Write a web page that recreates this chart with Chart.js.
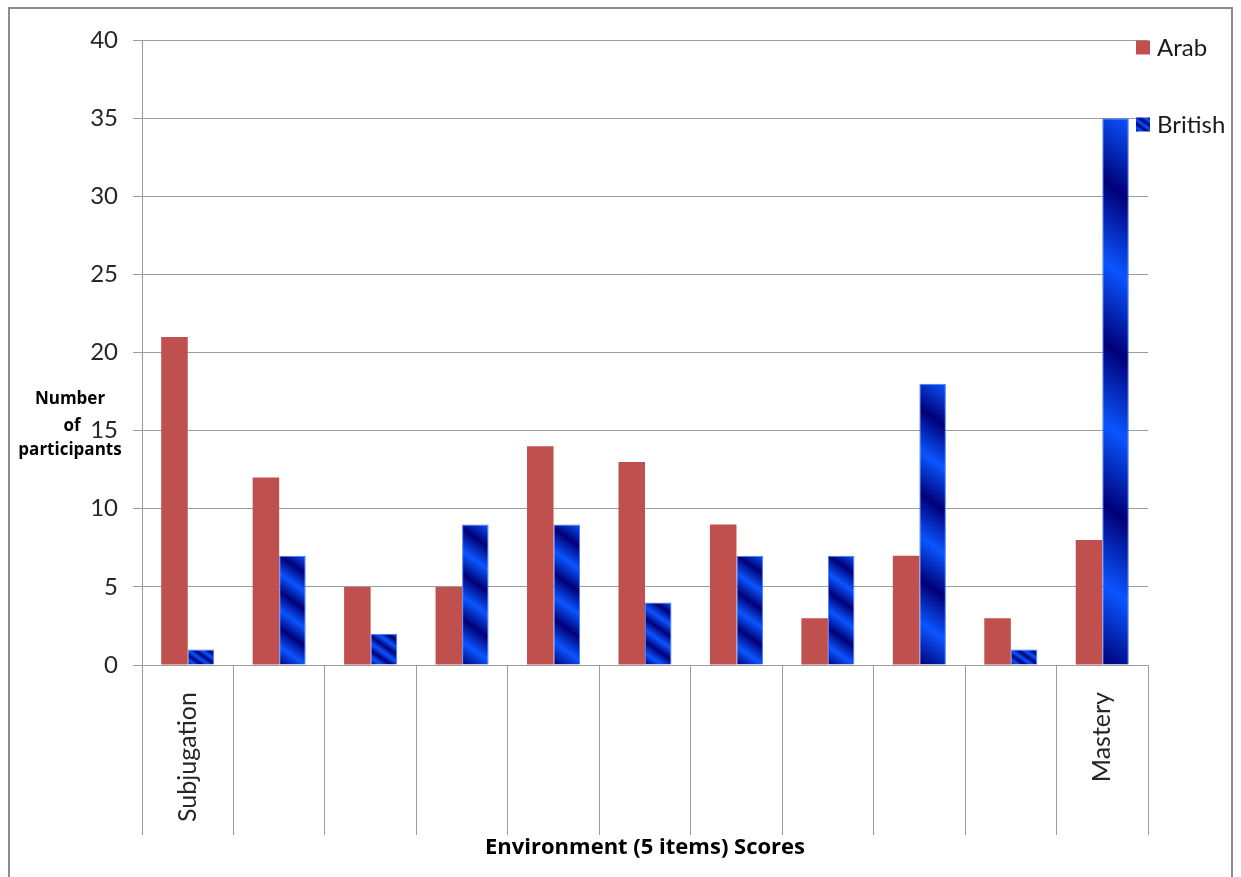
<!DOCTYPE html>
<html>
<head>
<meta charset="utf-8">
<script src="https://cdn.jsdelivr.net/npm/chart.js@4.4.1/dist/chart.umd.min.js"></script>
<style>
  html, body { margin: 0; padding: 0; background: #ffffff; }
  #wrap { width: 1241px; height: 877px; position: relative; }
</style>
</head>
<body>
<div id="wrap"><canvas id="c" width="1241" height="877"></canvas></div>
<script>
// ---- data ----
const categories = ["Subjugation", "", "", "", "", "", "", "", "", "", "Mastery"];
const arabValues = [21, 12, 5, 5, 14, 13, 9, 3, 7, 3, 8];
const britishValues = [1, 7, 2, 9, 9, 4, 7, 7, 18, 1, 35];
const seriesNames = ["Arab", "British"];
const yTickValues = [0, 5, 10, 15, 20, 25, 30, 35, 40];
const yTitleLines = ["Number", "of", "participants"];
const xTitle = "Environment (5 items) Scores";

const ARAB = "#C0504D";
const GRID = "#9c9c9c";
const FONT = "Lato, 'Open Sans', sans-serif";
const BOLDFONT = "'Open Sans', Lato, sans-serif";

function stripeGradient(ctx, xl, top, w, h, cycles) {
  const bottom = top + h;
  const a = 0.7 * h;
  const len2 = a * a + h * h;
  const t = (w * a + h * h) / len2;
  const g = ctx.createLinearGradient(xl, bottom, xl + a * t, bottom - h * t);
  const n = cycles;
  for (let k = 0; k <= Math.ceil(n * 2); k++) {
    const p = k / (2 * n);
    if (p > 1) break;
    g.addColorStop(p, k % 2 === 0 ? "#000078" : "#0a55ff");
  }
  return g;
}

const stripePlugin = {
  id: 'stripes',
  afterDatasetsUpdate(chart) {
    const meta = chart.getDatasetMeta(1);
    meta.data.forEach((el) => {
      const top = Math.min(el.y, el.base);
      const h = Math.abs(el.base - el.y);
      const xl = el.x - el.width / 2;
      if (h <= 0) return;
      const g = stripeGradient(chart.ctx, xl, top, el.width, h, 3.5);
      el.options = Object.assign({}, el.options, { backgroundColor: g });
    });
  }
};

const decorPlugin = {
  id: 'decor',
  beforeDraw(chart) {
    const ctx = chart.ctx;
    ctx.save();
    ctx.fillStyle = "#ffffff";
    ctx.fillRect(0, 0, chart.width, chart.height);
    ctx.strokeStyle = "#8c8c8c";
    ctx.lineWidth = 2;
    ctx.strokeRect(9, 8, 1223, 920);
    ctx.restore();
  },
  afterDraw(chart) {
    const ctx = chart.ctx;
    ctx.save();
    // y-axis title (horizontal, 3 lines)
    ctx.fillStyle = "#000000";
    ctx.font = "bold 17px " + BOLDFONT;
    ctx.textAlign = "center";
    ctx.textBaseline = "alphabetic";
    const ys = [404, 431, 455];
    const xs = [70, 72, 70];
    yTitleLines.forEach((t, i) => ctx.fillText(t, xs[i], ys[i]));
    // legend
    ctx.font = "24px " + FONT;
    ctx.textAlign = "left";
    ctx.textBaseline = "middle";
    const ly = [47.5, 124.5];
    chart.data.datasets.forEach((ds, i) => {
      const bx = 1136, by = ly[i] - 7, bs = 14;
      if (i === 0) {
        ctx.fillStyle = ARAB;
      } else {
        ctx.fillStyle = stripeGradient(ctx, bx, by, bs, bs, 3);
      }
      ctx.fillRect(bx, by, bs, bs);
      ctx.fillStyle = "#1a1a1a";
      ctx.fillText(ds.label, 1157, ly[i] + 1);
    });
    ctx.restore();
  }
};

new Chart(document.getElementById('c'), {
  type: 'bar',
  data: {
    labels: categories,
    datasets: [
      { label: seriesNames[0], data: arabValues, backgroundColor: ARAB, borderWidth: 0 },
      { label: seriesNames[1], data: britishValues, backgroundColor: () => "#0033cc",
        borderColor: "#4a7cff", borderWidth: 1 }
    ]
  },
  options: {
    responsive: false,
    animation: false,
    devicePixelRatio: 1,
    layout: { padding: { left: 0, top: 40, right: 93, bottom: 0 } },
    datasets: { bar: { categoryPercentage: 0.58, barPercentage: 1.0 } },
    plugins: { legend: { display: false }, tooltip: { enabled: false } },
    scales: {
      x: {
        grid: { display: true, drawOnChartArea: false, drawTicks: true, tickLength: 170,
                offset: true, color: GRID, lineWidth: 1 },
        border: { display: true, color: GRID },
        ticks: { color: "#262626", font: { family: FONT, size: 25 }, minRotation: 90,
                 maxRotation: 90, autoSkip: false, padding: -143 },
        title: { display: true, text: xTitle, color: "#000000",
                 font: { family: BOLDFONT, size: 22, weight: 'bold' }, padding: { top: 0, bottom: 16 } },
        afterFit: (s) => { s.height = 212; }
      },
      y: {
        min: 0, max: 40,
        afterBuildTicks: (s) => { s.ticks = yTickValues.map(v => ({ value: v })); },
        grid: { color: GRID, lineWidth: 1, drawTicks: true, tickLength: 9 },
        border: { display: true, color: GRID },
        ticks: { color: "#262626", font: { family: FONT, size: 24 }, padding: 15 },
        afterFit: (s) => { s.width = 142; }
      }
    }
  },
  plugins: [stripePlugin, decorPlugin]
});
</script>
</body>
</html>
